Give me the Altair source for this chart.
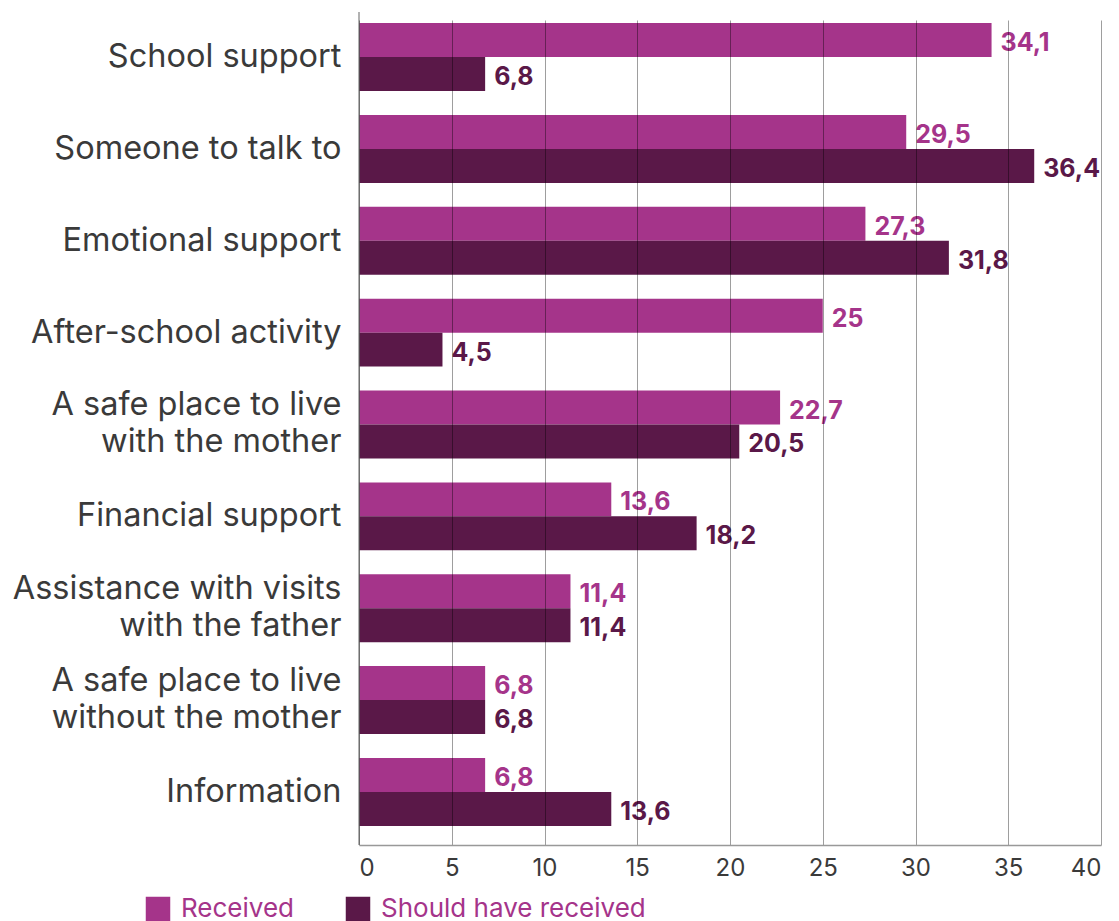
import altair as alt
import pandas as pd

categories = [
    "School support",
    "Someone to talk to",
    "Emotional support",
    "After-school activity",
    "A safe place to live|with the mother",
    "Financial support",
    "Assistance with visits|with the father",
    "A safe place to live|without the mother",
    "Information",
]
received = [34.1, 29.5, 27.3, 25, 22.7, 13.6, 11.4, 6.8, 6.8]
should_have = [6.8, 36.4, 31.8, 4.5, 20.5, 18.2, 11.4, 6.8, 13.6]
series = ["Received", "Should have received"]
colors = ["#A5348A", "#5A1848"]
x_ticks = [0, 5, 10, 15, 20, 25, 30, 35, 40]

rows = []
for c, r, s in zip(categories, received, should_have):
    rows.append({"category": c, "series": series[0], "value": r})
    rows.append({"category": c, "series": series[1], "value": s})
df = pd.DataFrame(rows)

FONT = "Inter"
LINE_H = 37

y_enc = alt.Y(
    "category:N",
    sort=categories,
    scale=alt.Scale(paddingInner=0.26, paddingOuter=0.12, range=[0, 825]),
    axis=alt.Axis(
        title=None,
        labelExpr="split(datum.label, '|')",
        labelFontSize=32.5,
        labelColor="#3a3a3a",
        labelFont=FONT,
        labelPadding=18,
        labelLineHeight=LINE_H,
        labelOffset={"condition": {"test": "indexof(datum.value, '|') >= 0", "value": -19.5}, "value": 0},
        ticks=False,
        domain=False,
        labelLimit=400,
    ),
)
x_enc = alt.X(
    "value:Q",
    scale=alt.Scale(domain=[0, 40], nice=False),
    axis=alt.Axis(
        title=None,
        values=x_ticks,
        grid=True,
        gridColor="#000000",
        gridOpacity=0.38,
        gridWidth=1,
        domain=True,
        domainColor="#999999",
        domainWidth=1.5,
        ticks=False,
        labelFontSize=24,
        labelColor="#3a3a3a",
        labelFont=FONT,
        labelPadding=11,
        zindex=1,
    ),
)
color_enc = alt.Color(
    "series:N",
    scale=alt.Scale(domain=series, range=colors),
    legend=alt.Legend(
        title=None,
        orient="none",
        legendX=-214,
        legendY=884,
        direction="horizontal",
        symbolType="square",
        symbolSize=600,
        symbolStrokeWidth=0,
        symbolOpacity=1,
        labelFontSize=26,
        labelFont=FONT,
        labelColor="#A5348A",
        labelOffset=10,
        labelLimit=500,
        columnPadding=50,
    ),
)

base = alt.Chart(df).encode(
    y=y_enc,
    yOffset=alt.YOffset("series:N", sort=series),
)

bars = base.mark_bar().encode(x=x_enc, color=color_enc)

text = base.transform_calculate(
    label="replace(toString(datum.value), '.', ',')"
).mark_text(
    align="left", baseline="middle", dx=9, dy=3, fontSize=25, fontWeight="bold", font=FONT
).encode(
    x=alt.X("value:Q"),
    text="label:N",
    color=alt.Color("series:N", scale=alt.Scale(domain=series, range=colors), legend=None),
)

# left vertical axis line spanning the full plot height
axis_line = alt.Chart(pd.DataFrame({"x0": [0]})).mark_rule(color="#999999", strokeWidth=1.5).encode(
    x=alt.X("x0:Q"),
    y=alt.value(0),
    y2=alt.value(833),
)

chart = (
    alt.layer(bars, text, axis_line)
    .properties(
        width=742,
        height=833,
        autosize=alt.AutoSizeParams(type="none"),
        padding={"left": 351, "top": 4, "right": 10, "bottom": 80},
    )
    .configure_view(stroke=None)
)

chart.save("out.html", embed_options={"renderer": "svg", "actions": False})
